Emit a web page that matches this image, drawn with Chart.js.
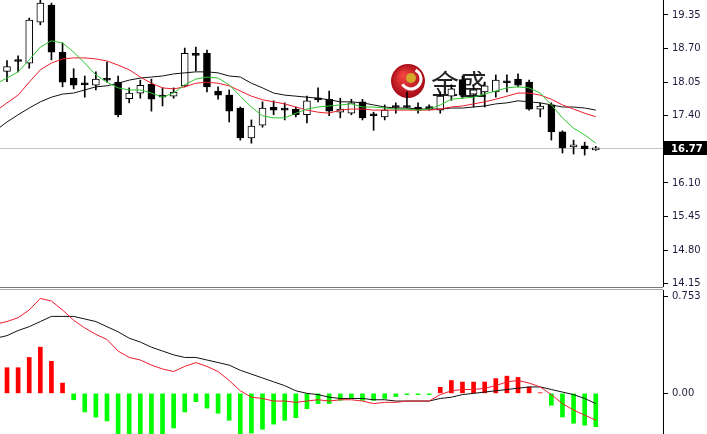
<!DOCTYPE html>
<html>
<head>
<meta charset="utf-8">
<script src="https://cdn.jsdelivr.net/npm/chart.js@4.4.1/dist/chart.umd.min.js"></script>
<style>
  html, body { margin: 0; padding: 0; background: #fff; }
  #wrap { position: relative; width: 707px; height: 434px; overflow: hidden; }
  #price { position: absolute; left: 0; top: 0; }
  #macd { position: absolute; left: 0; top: 290px; }
  .sep { position: absolute; left: 0; width: 663px; height: 1px; }
</style>
</head>
<body>
<div id="wrap">
  <canvas id="price" width="707" height="287"></canvas>
  <div class="sep" style="top:287px;background:#7a7a7a"></div>
  <div class="sep" style="top:289px;background:#a8a8a8"></div>
  <canvas id="macd" width="707" height="144"></canvas>
</div>
<script>
// candles, oldest first
const opens  = [18.26,18.47,18.42,19.21,19.54,18.63,18.13,18.02,17.99,18.10,18.05,17.73,17.84,18.01,17.77,17.78,17.98,18.58,18.61,17.88,17.80,17.55,16.97,17.22,17.57,17.52,17.53,17.42,17.72,17.72,17.47,17.45,17.67,17.41,17.38,17.57,17.57,17.57,17.55,17.51,17.78,18.10,17.82,17.86,17.86,18.05,18.11,18.05,17.53,17.61,17.09,16.80,16.82,16.74];
const highs  = [18.47,18.56,19.29,19.66,19.58,18.81,18.31,18.17,18.25,18.44,18.17,17.94,18.09,18.11,17.94,17.94,18.71,18.73,18.67,17.96,17.90,17.57,17.32,17.67,17.69,17.65,17.57,17.78,17.94,17.88,17.74,17.72,17.72,17.47,17.61,17.65,17.86,17.65,17.61,17.86,18.00,18.17,17.98,18.05,18.19,18.19,18.21,18.09,17.65,17.65,17.11,16.93,16.89,16.81];
const lows   = [18.06,18.25,18.32,19.16,18.48,17.96,17.92,17.76,17.90,18.05,17.38,17.65,17.74,17.49,17.59,17.74,17.96,18.27,17.86,17.72,17.28,16.93,16.87,17.18,17.42,17.32,17.38,17.26,17.67,17.40,17.36,17.42,17.32,17.12,17.32,17.45,17.55,17.45,17.51,17.45,17.70,17.74,17.57,17.57,17.76,17.86,17.96,17.51,17.38,16.93,16.68,16.66,16.64,16.73];
const closes = [18.35,18.45,19.25,19.58,18.63,18.05,17.99,18.00,18.11,18.09,17.42,17.84,17.99,17.72,17.76,17.86,18.61,18.57,17.96,17.80,17.49,16.97,17.20,17.55,17.51,17.51,17.42,17.69,17.71,17.49,17.53,17.65,17.36,17.40,17.51,17.56,17.56,17.52,17.54,17.78,17.92,17.80,17.90,17.98,18.09,18.04,17.99,17.53,17.59,17.09,16.78,16.84,16.76,16.77];

// moving averages, first value is the bar just left of the window
const maFast = [18.02,18.13,18.25,18.48,18.73,18.85,18.81,18.63,18.42,18.19,18.05,17.94,17.90,17.90,17.84,17.76,17.84,18.00,18.11,18.15,18.13,18.00,17.78,17.57,17.40,17.36,17.36,17.45,17.53,17.57,17.59,17.61,17.63,17.57,17.57,17.55,17.53,17.53,17.51,17.53,17.61,17.72,17.74,17.76,17.82,17.88,17.94,17.96,17.94,17.84,17.61,17.36,17.16,17.03,16.87];
const maMid  = [17.49,17.65,17.80,18.05,18.29,18.42,18.50,18.52,18.52,18.50,18.46,18.38,18.29,18.15,18.03,17.94,17.92,17.96,18.03,18.05,18.03,17.98,17.88,17.78,17.71,17.67,17.63,17.57,17.51,17.47,17.45,17.51,17.53,17.53,17.51,17.51,17.51,17.51,17.51,17.51,17.53,17.57,17.59,17.63,17.67,17.72,17.78,17.84,17.84,17.80,17.72,17.61,17.53,17.45,17.38];
const maSlow = [17.12,17.28,17.42,17.55,17.67,17.76,17.82,17.84,17.90,17.96,17.98,18.03,18.09,18.13,18.15,18.17,18.21,18.23,18.25,18.25,18.23,18.17,18.15,18.03,17.94,17.84,17.80,17.78,17.76,17.74,17.71,17.67,17.67,17.65,17.61,17.57,17.55,17.55,17.53,17.53,17.53,17.55,17.55,17.57,17.59,17.63,17.65,17.69,17.67,17.65,17.61,17.57,17.57,17.55,17.51];

// macd panel
const histo   = [0.20,0.20,0.28,0.36,0.25,0.08,-0.05,-0.145,-0.185,-0.215,-0.33,-0.36,-0.38,-0.36,-0.33,-0.27,-0.145,-0.065,-0.115,-0.155,-0.21,-0.32,-0.31,-0.28,-0.24,-0.21,-0.19,-0.12,-0.08,-0.08,-0.055,-0.04,-0.055,-0.055,-0.04,-0.025,-0.01,-0.01,-0.01,0.047,0.10,0.088,0.088,0.088,0.115,0.134,0.124,0.049,0.005,-0.093,-0.184,-0.233,-0.248,-0.26];
const macdRed   = [0.54,0.56,0.59,0.65,0.74,0.72,0.65,0.57,0.51,0.46,0.42,0.33,0.28,0.26,0.22,0.19,0.17,0.21,0.24,0.21,0.17,0.10,0.02,-0.03,-0.04,-0.06,-0.06,-0.07,-0.06,-0.05,-0.06,-0.05,-0.05,-0.06,-0.08,-0.07,-0.07,-0.06,-0.06,-0.06,-0.01,0.02,0.03,0.03,0.04,0.06,0.09,0.10,0.08,0.05,-0.01,-0.08,-0.13,-0.17,-0.21];
const macdBlack = [0.43,0.45,0.49,0.52,0.56,0.60,0.60,0.60,0.58,0.56,0.52,0.48,0.43,0.40,0.36,0.33,0.30,0.28,0.28,0.26,0.24,0.22,0.18,0.15,0.12,0.09,0.06,0.02,0.00,-0.01,-0.03,-0.04,-0.04,-0.04,-0.05,-0.05,-0.06,-0.06,-0.06,-0.06,-0.04,-0.03,-0.01,0.00,0.01,0.02,0.03,0.04,0.05,0.05,0.03,0.01,-0.01,-0.04,-0.08];

const priceTicks = [19.35, 18.70, 18.05, 17.40, 16.10, 15.45, 14.80, 14.15];
const macdTicks = [0.753, 0];
const lastPrice = closes[closes.length - 1];

const xMin = -0.63, xMax = 59.05;
const font = { family: 'DejaVu Sans', size: 10 };

const lineSet = (arr, color) => ({
    type: 'line',
    data: arr.map((v, i) => ({ x: i - 1, y: v })),
    borderColor: color,
    borderWidth: 1,
    pointRadius: 0,
    tension: 0,
    order: 0
});

const rightAxis = (min, max, ticks, fmt) => ({
    position: 'right',
    min: min,
    max: max,
    afterBuildTicks: s => { s.ticks = ticks.map(v => ({ value: v })); },
    afterFit: s => { s.width = 44; s.paddingTop = 0; s.paddingBottom = 0; },
    grid: { drawOnChartArea: false, tickLength: 5, color: '#000' },
    border: { color: '#000' },
    ticks: { padding: 4, color: '#1c1c3c', font: font, autoSkip: false, callback: fmt }
});

const baseOptions = (yAxis) => ({
    responsive: false,
    animation: false,
    devicePixelRatio: 1,
    layout: { padding: 0 },
    plugins: { legend: { display: false }, tooltip: { enabled: false } },
    scales: {
        x: { type: 'linear', display: false, min: xMin, max: xMax, offset: false },
        y: yAxis
    }
});

// current price line, box and watermark
const priceMarker = {
    id: 'priceMarker',
    beforeDatasetsDraw(chart) {
        const { ctx, chartArea: a, scales: { y } } = chart;
        const py = Math.round(y.getPixelForValue(lastPrice)) + 0.5;
        ctx.save();
        ctx.strokeStyle = '#c4c4c4';
        ctx.lineWidth = 1;
        ctx.beginPath();
        ctx.moveTo(a.left, py);
        ctx.lineTo(a.right, py);
        ctx.stroke();

        // logo
        const cx = 408, cy = 81;
        const g = ctx.createRadialGradient(cx - 5, cy - 6, 2, cx, cy, 17);
        g.addColorStop(0, '#f04040');
        g.addColorStop(1, '#a80c18');
        ctx.fillStyle = g;
        ctx.beginPath();
        ctx.arc(cx, cy, 17, 0, Math.PI * 2);
        ctx.fill();
        ctx.strokeStyle = '#ffffff';
        ctx.lineWidth = 3;
        ctx.beginPath();
        ctx.arc(cx + 3, cy - 2, 10, -1.1, 2.6);
        ctx.stroke();
        ctx.fillStyle = '#d4a82a';
        ctx.beginPath();
        ctx.arc(cx + 3, cy - 3, 5, 0, Math.PI * 2);
        ctx.fill();
        ctx.fillStyle = '#222';
        ctx.font = '28px "Noto Sans CJK SC"';
        ctx.textBaseline = 'middle';
        ctx.fillText('金盛', 431, 84);
        ctx.restore();
    },
    afterDraw(chart) {
        const { ctx, chartArea: a, scales: { y } } = chart;
        const py = Math.round(y.getPixelForValue(lastPrice));
        ctx.save();
        ctx.fillStyle = '#000';
        ctx.fillRect(a.right + 1, py - 7, 44, 14);
        ctx.fillStyle = '#fff';
        ctx.font = 'bold 10px "DejaVu Sans"';
        ctx.textBaseline = 'middle';
        ctx.fillText(lastPrice.toFixed(2), a.right + 8, py + 1);
        ctx.restore();
    }
};

new Chart(document.getElementById('price'), {
    type: 'bar',
    data: {
        datasets: [
            lineSet(maFast, '#2fc42f'),
            lineSet(maMid, '#ee1c2c'),
            lineSet(maSlow, '#111111'),
            {
                data: opens.map((o, i) => ({ x: i, y: [Math.min(o, closes[i]), Math.max(o, closes[i])] })),
                backgroundColor: opens.map((o, i) => closes[i] >= o ? '#ffffff' : '#000000'),
                borderColor: '#000',
                borderWidth: 1,
                borderSkipped: false,
                barThickness: 7,
                minBarLength: 2,
                grouped: false,
                order: 1
            },
            {
                data: highs.map((h, i) => ({ x: i, y: [lows[i], h] })),
                backgroundColor: '#000',
                borderWidth: 0,
                barThickness: 1,
                grouped: false,
                order: 2
            }
        ]
    },
    options: baseOptions(rightAxis(14.088, 19.64, priceTicks, v => v.toFixed(2))),
    plugins: [priceMarker]
});

new Chart(document.getElementById('macd'), {
    type: 'bar',
    data: {
        datasets: [
            lineSet(macdRed, '#ee1c2c'),
            lineSet(macdBlack, '#111111'),
            {
                data: histo.map((v, i) => ({ x: i, y: v })),
                backgroundColor: histo.map(v => v >= 0 ? '#ff0000' : '#00ff00'),
                borderWidth: 0,
                barThickness: 4,
                grouped: false,
                order: 1
            }
        ]
    },
    options: baseOptions(rightAxis(-0.317, 0.806, macdTicks, v => v === 0 ? '0.00' : '0.753'))
});
</script>
</body>
</html>
